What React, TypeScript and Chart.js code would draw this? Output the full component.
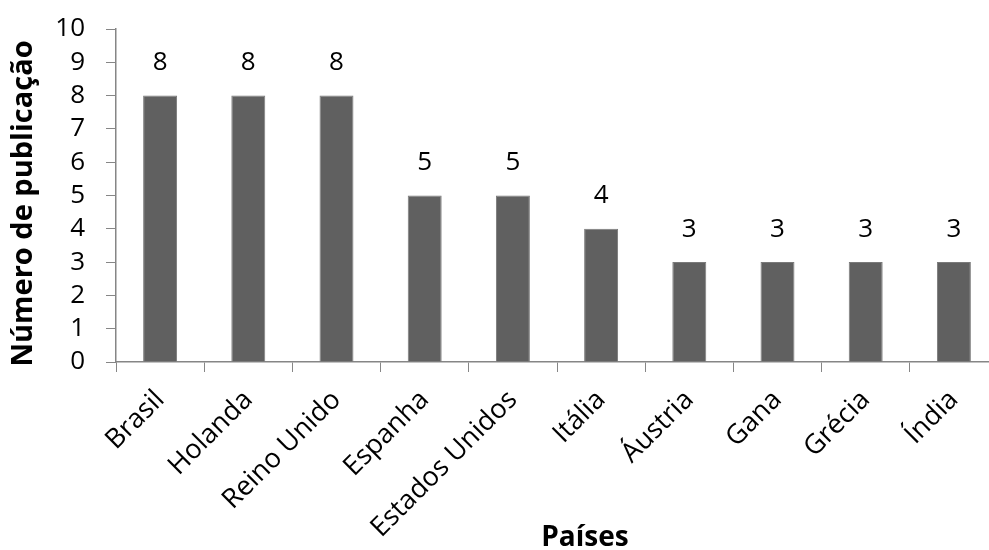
import React, { useEffect, useRef } from "react";
import { Chart, registerables } from "chart.js";

Chart.register(...registerables);

const categories = ["Brasil", "Holanda", "Reino Unido", "Espanha", "Estados Unidos", "Itália", "Áustria", "Gana", "Grécia", "Índia"];
const values = [8, 8, 8, 5, 5, 4, 3, 3, 3, 3];
const yTitle = "Número de publicação";
const xTitle = "Países";

const FONT = "'Open Sans', sans-serif";

const labelsPlugin = {
  id: "customLabels",
  afterDatasetsDraw(chart: any) {
    const ctx = chart.ctx;
    const meta = chart.getDatasetMeta(0);
    ctx.save();
    ctx.fillStyle = "#000";
    ctx.font = `26px ${FONT}`;
    ctx.textAlign = "center";
    ctx.textBaseline = "middle";
    meta.data.forEach((bar: any, i: number) => {
      ctx.fillText(String(values[i]), bar.x, bar.y - 33);
    });
    ctx.restore();
  },
  afterDraw(chart: any) {
    const ctx = chart.ctx;
    const area = chart.chartArea;
    ctx.save();
    ctx.fillStyle = "#000";
    ctx.font = `bold 28px ${FONT}`;
    ctx.textAlign = "center";
    ctx.textBaseline = "middle";
    ctx.fillText(xTitle, area.left + 469, area.bottom + 176);
    ctx.font = `bold 29px ${FONT}`;
    ctx.translate(24, (area.top + area.bottom) / 2 + 8);
    ctx.rotate(-Math.PI / 2);
    ctx.fillText(yTitle, 0, 0);
    ctx.restore();
  },
};

export default function App() {
  const ref = useRef<HTMLCanvasElement>(null);
  useEffect(() => {
    if (!ref.current) return;
    const chart = new Chart(ref.current, {
      type: "bar",
      data: {
        labels: categories,
        datasets: [
          {
            data: values,
            backgroundColor: "#606060",
            borderColor: "#7a7a7a",
            borderWidth: 1,
            barPercentage: 1,
            categoryPercentage: 0.385,
          },
        ],
      },
      options: {
        responsive: false,
        animation: false,
        layout: { padding: { top: 29, right: 12, left: 0, bottom: 0 } },
        plugins: { legend: { display: false }, tooltip: { enabled: false } },
        scales: {
          x: {
            grid: { drawOnChartArea: false, drawTicks: true, tickLength: 10, color: "#868686", offset: true },
            border: { color: "#868686", width: 1.5 },
            ticks: {
              color: "#000",
              font: { family: FONT, size: 27 },
              maxRotation: 45,
              minRotation: 45,
              autoSkip: false,
              padding: 12,
            },
            afterFit: (s: any) => {
              s.height = 188;
            },
          },
          y: {
            min: 0,
            max: 10,
            grid: { drawOnChartArea: false, drawTicks: true, tickLength: 10, color: "#868686" },
            border: { color: "#868686", width: 1.5 },
            ticks: {
              stepSize: 1,
              autoSkip: false,
              color: "#000",
              font: { family: FONT, size: 26 },
              padding: 21,
            },
            afterFit: (s: any) => {
              s.width = 116;
              s.paddingTop = 10;
              s.paddingBottom = 10;
            },
          },
        },
      },
      plugins: [labelsPlugin],
    });
    return () => chart.destroy();
  }, []);
  return (
    <div style={{ position: "fixed", left: 0, top: 0, width: 989, height: 550, overflow: "hidden", background: "#fff" }}>
      <canvas ref={ref} width={1010} height={550} style={{ display: "block" }} />
    </div>
  );
}
